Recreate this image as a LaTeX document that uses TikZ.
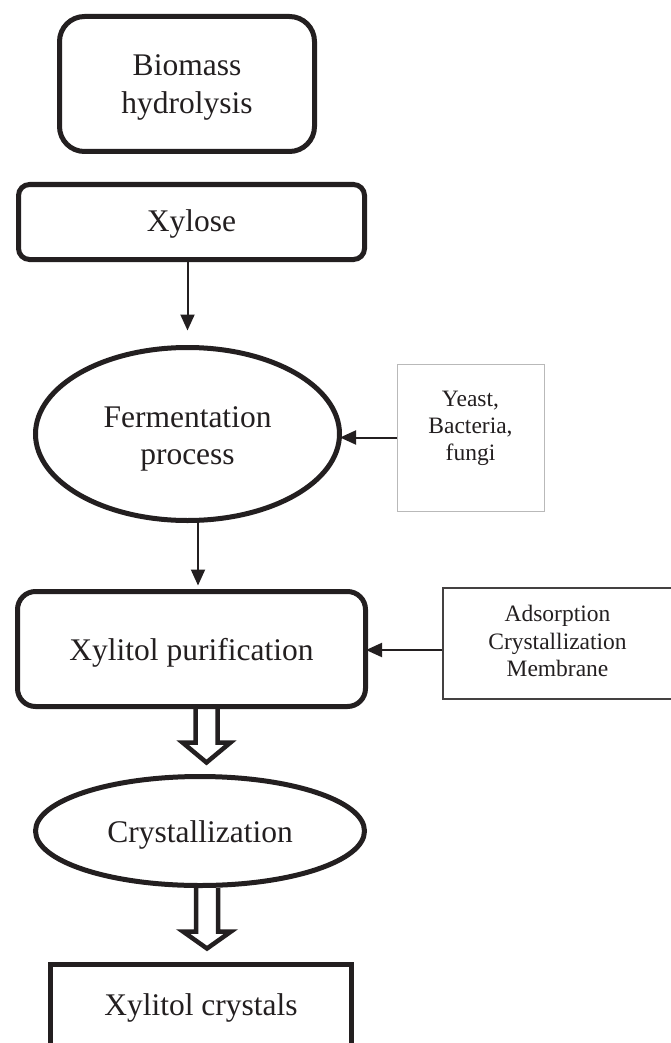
\documentclass[tikz,border=0pt]{standalone}
\usepackage{fontspec}
\setmainfont{Liberation Serif}
\usetikzlibrary{arrows.meta,shapes.geometric,calc}
\pgfdeclarelayer{bg}
\pgfsetlayers{bg,main}
\definecolor{ink}{RGB}{35,31,32}
\begin{document}
\begin{tikzpicture}[x=1pt,y=-1pt,
  bigtext/.style={font=\fontsize{31.5}{37.5}\selectfont},
  thickbox/.style={draw=ink, line width=5pt, fill=white, inner sep=0pt,
    text=ink, align=center, bigtext},
  sidebox/.style={fill=white, inner sep=0pt, text=ink, align=center},
  thinarr/.style={draw=ink, line width=2pt, -{Triangle[length=16pt,width=14pt]}},
  hollow/.style={draw=ink, line width=4.5pt, fill=white, line join=miter}]
\useasboundingbox (0,0) rectangle (670,1043);

% main flow
\node[thickbox, rounded corners=25pt, minimum width=255pt, minimum height=135pt]
  (bio) at (187,84) {\rule{0pt}{28.3pt}Biomass\\hydrolysis};
\node[thickbox, rounded corners=11pt, minimum width=346pt, minimum height=75pt]
  (xyl) at (191.5,222) {\rule{0pt}{24.8pt}Xylose};
\node[thickbox, ellipse, minimum width=304pt, minimum height=173pt]
  (ferm) at (187.5,434) {\rule{0pt}{30.3pt}Fermentation\\process};
\node[thickbox, rounded corners=18pt, minimum width=348pt, minimum height=115pt]
  (pur) at (191.5,649) {\rule{0pt}{28.8pt}Xylitol purification};
\node[thickbox, ellipse, minimum width=329pt, minimum height=109pt]
  (cry) at (200,831) {\rule{0pt}{28.8pt}Crystallization};
\node[thickbox, minimum width=301pt, minimum height=87pt]
  (xc) at (201,1008) {Xylitol crystals};

% side boxes
\node[sidebox, draw=gray!55, line width=1pt, minimum width=147pt, minimum height=147pt,
  font=\fontsize{23.5}{26.7}\selectfont]
  (yeast) at (470.5,437.5) {Yeast,\\Bacteria,\\fungi\rule[-23.6pt]{0pt}{23.6pt}};
\node[sidebox, draw=ink!85, line width=1.2pt, minimum width=257pt, minimum height=111pt,
  font=\fontsize{23.5}{27.5}\selectfont]
  (ads) at (571.5,643.5) {\begin{tabular}{@{}c@{}}Adsorption\\Crystallization\\Membrane\end{tabular}\hspace{28pt}};

% thin arrows
\draw[thinarr, shorten >=14.5pt] (xyl.south -| ferm.north) -- (ferm.north);
\draw[thinarr, shorten >=-2pt] (yeast.west) -- (yeast.west -| ferm.east);
\draw[thinarr, shorten >=3.5pt] ([xshift=10.5pt]ferm.south) -- ([xshift=10.5pt]ferm.south |- pur.north);
\coordinate (adsin) at ([yshift=-6.5pt]ads.west);
\draw[thinarr, shorten >=-2pt] (adsin) -- (adsin -| pur.east);

% hollow block arrows
\coordinate (h1) at ([xshift=15pt]pur.south);
\coordinate (h2) at ([xshift=7pt]cry.south);
\begin{pgfonlayer}{bg}
\draw[hollow] ($(h1)+(-11,0)$) -- ($(cry.north -| h1)+(-11,-31.5)$)
  -- ($(cry.north -| h1)+(-24,-31.5)$) -- ($(cry.north -| h1)+(0,-11.5)$)
  -- ($(cry.north -| h1)+(24,-31.5)$) -- ($(cry.north -| h1)+(11,-31.5)$)
  -- ($(h1)+(11,0)$);
\draw[hollow] ($(h2)+(-11,0)$) -- ($(xc.north -| h2)+(-11,-30.5)$)
  -- ($(xc.north -| h2)+(-24,-30.5)$) -- ($(xc.north -| h2)+(0,-13.5)$)
  -- ($(xc.north -| h2)+(24,-30.5)$) -- ($(xc.north -| h2)+(11,-30.5)$)
  -- ($(h2)+(11,0)$);
\end{pgfonlayer}
\end{tikzpicture}
\end{document}
